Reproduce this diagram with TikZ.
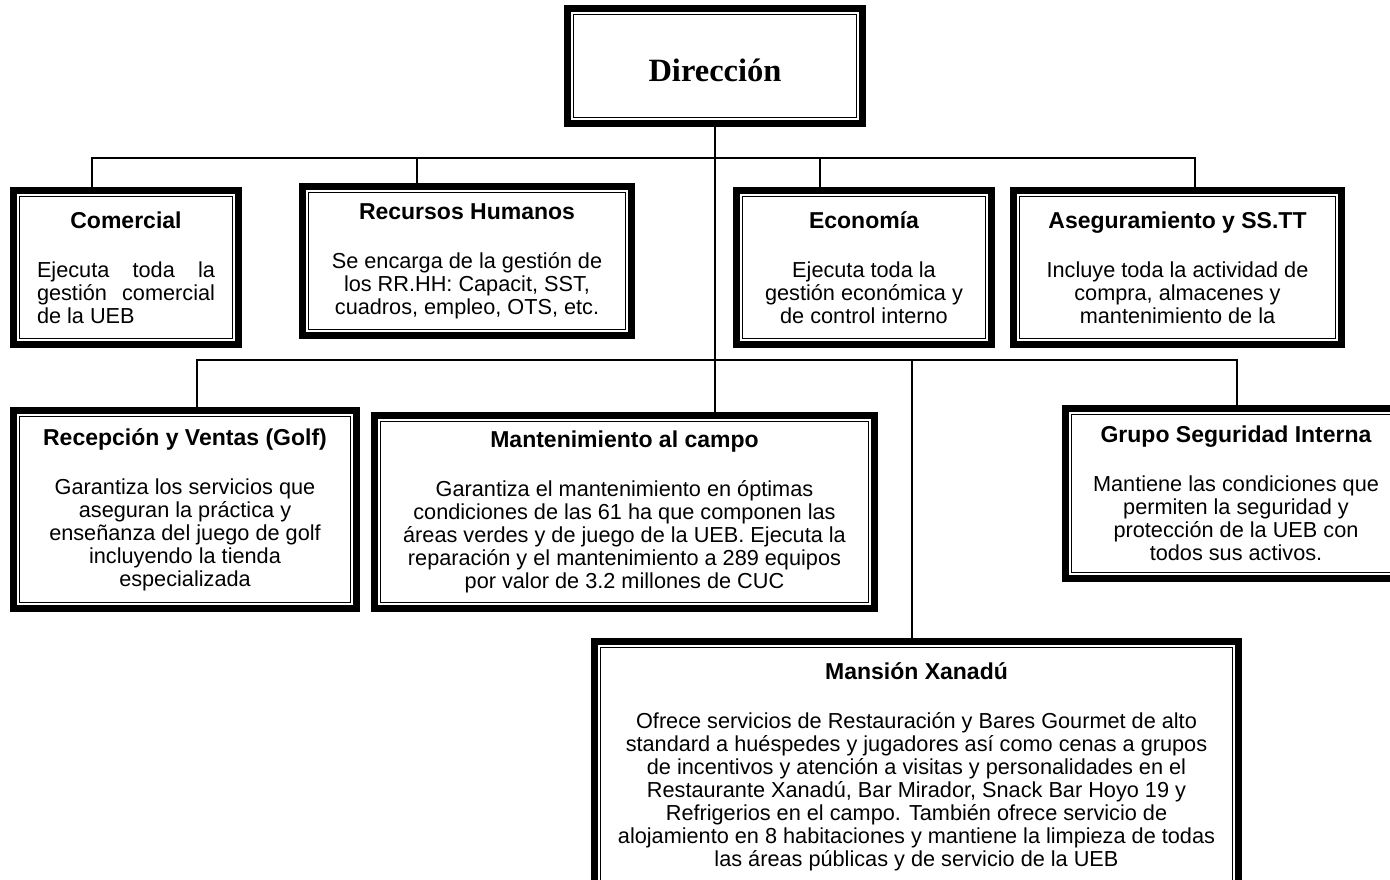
\documentclass[tikz,border=0pt]{standalone}
\usepackage{fontspec}
\setmainfont{Liberation Sans}
\newfontfamily\dirfont{Liberation Serif}
\newcommand\unittitle[1]{{\fontsize{23}{23}\selectfont\bfseries #1}\\[26pt]}
\begin{document}
\begin{tikzpicture}[x=1pt,y=-1pt,
    orgbox/.style={fill=white,draw=black,line width=1pt,
        preaction={draw=black,line width=19.5pt},
        preaction={draw=white,line width=5pt},
        outer sep=9.75pt,inner sep=0pt,align=center,
        font=\fontsize{21.7}{23}\selectfont},
    link/.style={draw=black,line width=2.5pt}]
    \useasboundingbox (0,0) rectangle (1390,879);

    \node[orgbox,minimum width=283,minimum height=103] (dir) at (715,66)
        {\raisebox{-15pt}[0pt][0pt]{\dirfont\fontsize{32.5}{34}\selectfont\bfseries Dirección}};

    \node[orgbox,minimum width=213,minimum height=142] (com) at (126,267.5)
        {\unittitle{Comercial}\parbox[t]{178pt}{Ejecuta toda la\linebreak gestión comercial\linebreak de la UEB}};
    \node[orgbox,minimum width=317,minimum height=137] (rh) at (467,261)
        {\unittitle{Recursos Humanos}Se encarga de la gestión de\\los RR.HH: Capacit, SST,\\cuadros, empleo, OTS, etc.};
    \node[orgbox,minimum width=243,minimum height=142] (eco) at (864,267.5)
        {\unittitle{Economía}Ejecuta toda la\\gestión económica y\\de control interno};
    \node[orgbox,minimum width=316,minimum height=142] (ase) at (1177.5,267.5)
        {\unittitle{Aseguramiento y SS.TT}Incluye toda la actividad de\\compra, almacenes y\\mantenimiento de la};

    \node[orgbox,minimum width=331,minimum height=186] (rec) at (185,509.5)
        {\unittitle{Recepción y Ventas (Golf)}Garantiza los servicios que\\aseguran la práctica y\\enseñanza del juego de golf\\incluyendo la tienda\\especializada};
    \node[orgbox,minimum width=488,minimum height=181] (mant) at (624.5,512)
        {\unittitle{Mantenimiento al campo}Garantiza el mantenimiento en óptimas\\condiciones de las 61 ha que componen las\\áreas verdes y de juego de la UEB. Ejecuta la\\reparación y el mantenimiento a 289 equipos\\por valor de 3.2 millones de CUC};
    \node[orgbox,minimum width=329,minimum height=158] (seg) at (1236,493.5)
        {\unittitle{Grupo Seguridad Interna}Mantiene las condiciones que\\permiten la seguridad y\\protección de la UEB con\\todos sus activos.};
    \node[orgbox,minimum width=632,minimum height=238] (xan) at (916.5,766.5)
        {\unittitle{Mansión Xanadú}Ofrece servicios de Restauración y Bares Gourmet de alto\\standard a huéspedes y jugadores así como cenas a grupos\\de incentivos y atención a visitas y personalidades en el\\Restaurante Xanadú, Bar Mirador, Snack Bar Hoyo 19 y\\Refrigerios en el campo. También ofrece servicio de\\alojamiento en 8 habitaciones y mantiene la limpieza de todas\\las áreas públicas y de servicio de la UEB};

    \coordinate (tA) at (92,158);
    \coordinate (tB) at (417,158);
    \coordinate (tC) at (820,158);
    \coordinate (tD) at (1195,158);
    \coordinate (bA) at (197,360);
    \coordinate (bC) at (912,360);
    \coordinate (bD) at (1237,360);

    \draw[link] (tA |- com.north) -- (tA) -- (tD) -- (tD |- ase.north);
    \draw[link] (tB) -- (tB |- rh.north);
    \draw[link] (tC) -- (tC |- eco.north);
    \draw[link] (bA |- rec.north) -- (bA) -- (bD) -- (bD |- seg.north);
    \draw[link] (bC) -- (bC |- xan.north);
    \draw[link] (dir.south) -- (dir.south |- mant.north);
\end{tikzpicture}
\end{document}
